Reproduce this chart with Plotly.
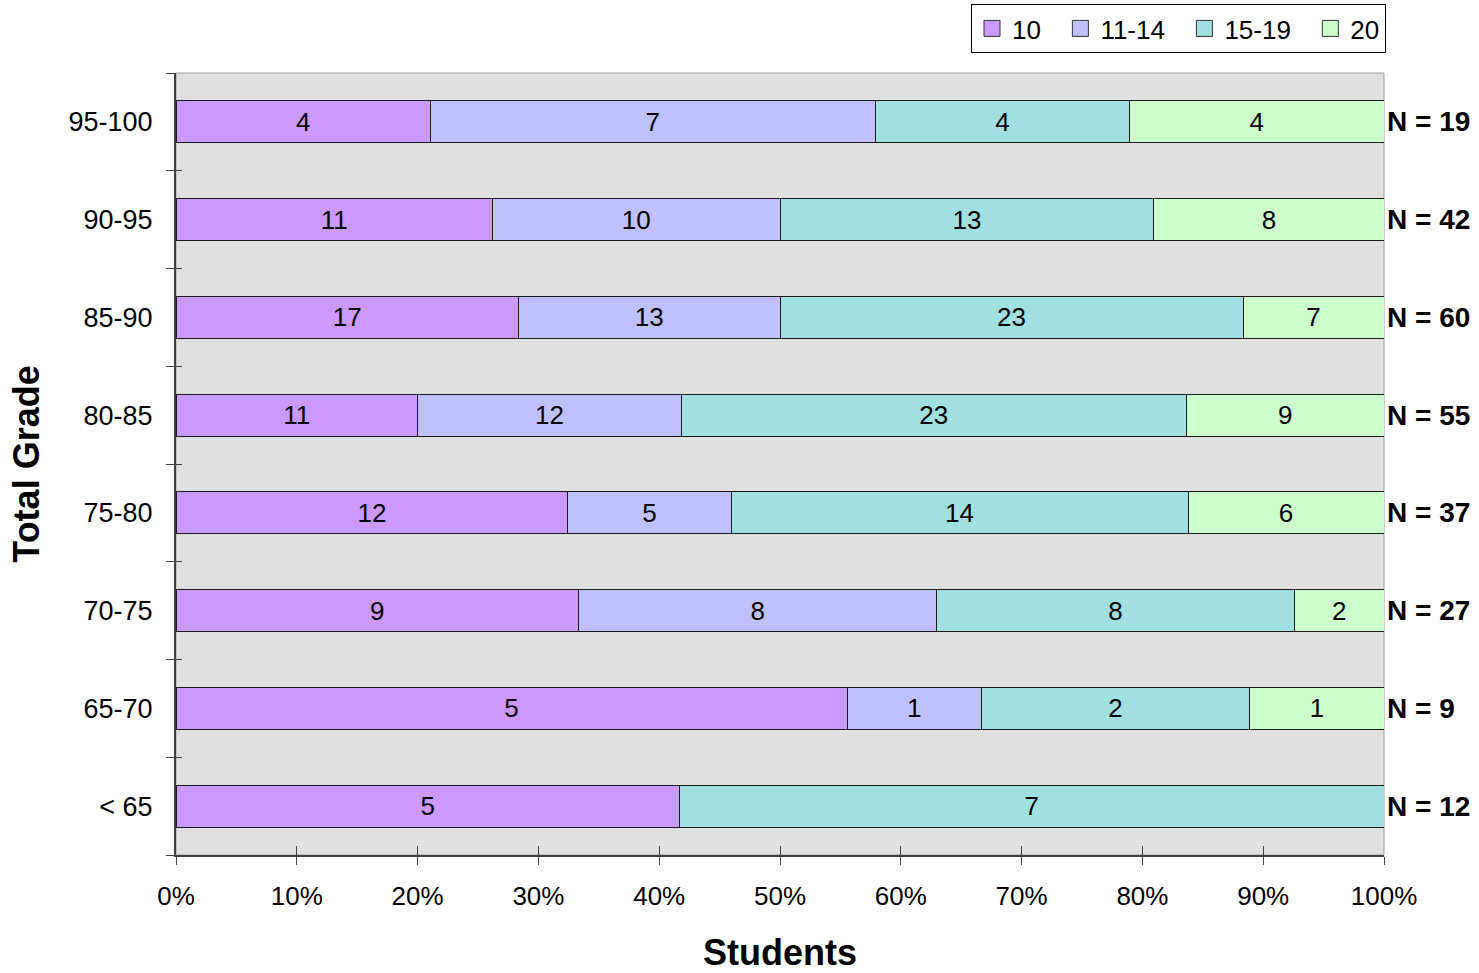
import plotly.graph_objects as go

categories = ["< 65", "65-70", "70-75", "75-80", "80-85", "85-90", "90-95", "95-100"]
series_names = ["10", "11-14", "15-19", "20"]
s10 = [5, 5, 9, 12, 11, 17, 11, 4]
s11_14 = [0, 1, 8, 5, 12, 13, 10, 7]
s15_19 = [7, 2, 8, 14, 23, 23, 13, 4]
s20 = [0, 1, 2, 6, 9, 7, 8, 4]
x_tick_vals = [0, 10, 20, 30, 40, 50, 60, 70, 80, 90, 100]
x_tick_text = ["0%", "10%", "20%", "30%", "40%", "50%", "60%", "70%", "80%", "90%", "100%"]

series = [s10, s11_14, s15_19, s20]
colors = ["#CC99FF", "#C0C0FF", "#A0E0E0", "#CCFFCC"]
FONT = "Liberation Sans, Arial, sans-serif"

fig = go.Figure()
for name, vals, col in zip(series_names, series, colors):
    fig.add_trace(go.Bar(
        y=categories, x=vals, name=name, orientation="h", showlegend=False,
        marker=dict(color=col, line=dict(color="#1a1a1a", width=1)),
        text=[str(v) if v else "" for v in vals],
        textposition="inside", insidetextanchor="middle", textangle=0,
        textfont=dict(family=FONT, size=26, color="black"),
        cliponaxis=False,
    ))

# legend entries (square swatches with border, like the original)
pad = ["\u00a0\u00a0", "\u00a0\u00a0", "\u00a0\u00a0", ""]
for name, col, p in zip(series_names, colors, pad):
    fig.add_trace(go.Scatter(
        x=[None], y=[None], mode="markers", name=name + p,
        marker=dict(symbol="square", size=16, color=col, line=dict(color="#333333", width=1)),
        showlegend=True,
    ))

totals = [sum(t) for t in zip(*series)]
annotations = []
for cat, n in zip(categories, totals):
    annotations.append(dict(
        x=1, xref="x domain", y=cat, yref="y", text=f"<b>N = {n}</b>",
        showarrow=False, xanchor="left", xshift=1,
        font=dict(family=FONT, size=28, color="black"),
    ))

# overlay axes for tick marks that cross the axis lines
fig.add_trace(go.Scatter(x=[], y=[], xaxis="x2", yaxis="y2", showlegend=False))

nb = len(categories)
fig.update_layout(
    width=1479, height=973,
    margin=dict(l=176, r=95, t=73, b=118),
    paper_bgcolor="white", plot_bgcolor="#E0E0E0",
    barmode="stack", barnorm="percent", bargap=0.57,
    font=dict(family=FONT, size=26, color="black"),
    showlegend=True,
    legend=dict(orientation="h", x=1386 / 1479, xanchor="right", xref="container",
                y=1 - 4 / 973, yanchor="top", yref="container",
                bordercolor="black", borderwidth=1, bgcolor="white",
                font=dict(family=FONT, size=26), traceorder="normal",
                itemwidth=30, entrywidth=0),
    xaxis=dict(range=[0, 100.0001], tickvals=x_tick_vals, ticktext=x_tick_text,
               automargin=False,
               showgrid=False, zeroline=False,
               showline=True, linecolor="#404040", linewidth=2,
               ticks="outside", ticklen=8, tickcolor="#404040", tickwidth=1,
               ticklabelstandoff=9,
               tickfont=dict(family=FONT, size=26),
               title=dict(text="<b>Students</b>", font=dict(family=FONT, size=36), standoff=37)),
    yaxis=dict(type="category", categoryorder="array", categoryarray=categories,
               range=[-0.5, nb - 0.5], automargin=False,
               tickson="boundaries", ticks="outside", ticklen=8, tickcolor="#404040",
               showgrid=False, zeroline=False,
               showline=True, linecolor="#404040", linewidth=2,
               ticklabelstandoff=16,
               tickfont=dict(family=FONT, size=27),
               title=dict(text="<b>Total Grade</b>", font=dict(family=FONT, size=36), standoff=18)),
    xaxis2=dict(overlaying="x", anchor="y", range=[0, 100.0001], tickvals=x_tick_vals,
                showticklabels=False, ticks="inside", ticklen=9, tickcolor="#404040",
                showgrid=False, zeroline=False, showline=False),
    yaxis2=dict(overlaying="y", anchor="x", range=[-0.5, nb - 0.5],
                tickvals=[i - 0.5 for i in range(nb + 1)],
                showticklabels=False, ticks="inside", ticklen=6, tickcolor="#404040",
                showgrid=False, zeroline=False, showline=False),
    annotations=annotations,
    shapes=[dict(type="rect", xref="x domain", yref="y domain", x0=0, x1=1, y0=0, y1=1,
                 line=dict(color="#A0A0A0", width=1), layer="below")],
)

fig.write_html("out.html")
